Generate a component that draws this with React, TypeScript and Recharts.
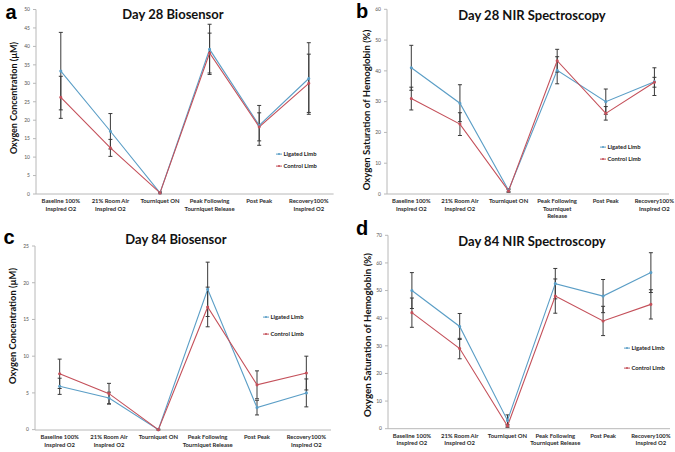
import { LineChart, Line, XAxis, YAxis, ErrorBar } from "recharts"

// categorias (eixo x)
const categories = [
  'Baseline 100%\nInspired O2',
  '21% Room Air\nInspired O2',
  'Tourniquet ON',
  'Peak Following\nTourniquet Release',
  'Post Peak',
  'Recovery100%\nInspired O2',
]
const categoriesNir28 = [
  'Baseline 100%\nInspired O2',
  '21% Room Air\nInspired O2',
  'Tourniquet ON',
  'Peak Following\nTourniquet\nRelease',
  'Post Peak',
  'Recovery100%\nInspired O2',
]

// a - Day 28 Biosensor
const bio28Ligated = [33.3, 17.0, 0.3, 39.2, 18.6, 31.3]
const bio28LigatedErr = [10.5, 4.8, 0.2, 6.8, 5.4, 9.7]
const bio28Control = [26.2, 12.5, 0.3, 38.2, 18.2, 30.0]
const bio28ControlErr = [5.7, 2.3, 0.2, 5.4, 3.8, 7.9]

// b - Day 28 NIR
const nir28Ligated = [41.0, 29.5, 1.2, 40.2, 30.0, 36.5]
const nir28LigatedErr = [7.3, 6.0, 0.5, 4.4, 4.1, 4.5]
const nir28Control = [31.0, 22.7, 1.0, 43.3, 26.2, 36.3]
const nir28ControlErr = [3.7, 3.7, 0.4, 3.7, 2.2, 1.6]

// c - Day 84 Biosensor
const bio84Ligated = [5.9, 4.3, 0.0, 19.1, 3.0, 5.0]
const bio84LigatedErr = [1.1, 0.8, 0.05, 3.7, 1.0, 1.9]
const bio84Control = [7.6, 4.9, 0.0, 16.7, 6.1, 7.7]
const bio84ControlErr = [2.0, 1.4, 0.05, 2.7, 1.9, 2.3]

// d - Day 84 NIR
const nir84Ligated = [50.0, 37.0, 3.0, 52.5, 48.0, 56.5]
const nir84LigatedErr = [6.5, 4.7, 2.0, 5.5, 6.0, 7.2]
const nir84Control = [42.0, 29.0, 1.0, 48.0, 39.0, 45.0]
const nir84ControlErr = [5.3, 3.7, 0.5, 6.2, 5.3, 5.3]

const ticksBio28 = [0, 5, 10, 15, 20, 25, 30, 35, 40, 45, 50]
const ticksNir28 = [0, 10, 20, 30, 40, 50, 60]
const ticksBio84 = [0, 5, 10, 15, 20, 25]
const ticksNir84 = [0, 10, 20, 30, 40, 50, 60, 70]

const BLUE = '#5b9ec6'
const RED = '#c4505a'
const FONT = 'Lato, "Open Sans", sans-serif'

function CatTick(props: any) {
  const { x, y, payload, labels } = props
  const parts = String(labels[payload.value] ?? '').split('\n')
  return (
    <text x={x} y={y} textAnchor="middle" fontSize={5.9} fontWeight={700} fill="#2a2a2a" fontFamily={FONT}>
      {parts.map((p: string, i: number) => (
        <tspan key={i} x={x} dy={i === 0 ? 7 : 7.6}>{p}</tspan>
      ))}
    </text>
  )
}

function Panel(props: any) {
  const {
    left, top, width, height, margin, yWidth, xHeight, xDomain, yDomain, yTicks,
    labels, ligated, ligatedErr, control, controlErr,
    title, titlePos, letter, letterPos, yLabel, yLabelPos, yLabelSize, legendPos, legendGap,
  } = props

  const rows = labels.map((_: string, i: number) => ({
    idx: i,
    lig: ligated[i],
    ligErr: ligatedErr[i],
    ctl: control[i],
    ctlErr: controlErr[i],
  }))

  return (
    <div style={{ position: 'absolute', left, top, width, height }}>
      <LineChart width={width} height={height} data={rows} margin={margin}>
        <XAxis
          dataKey="idx"
          type="number"
          domain={xDomain}
          ticks={[0, 1, 2, 3, 4, 5]}
          interval={0}
          height={xHeight}
          tickLine={false}
          tickSize={0}
          tickMargin={2}
          stroke="#b8b8b8"
          tick={<CatTick labels={labels} />}
        />
        <YAxis
          type="number"
          domain={yDomain}
          ticks={yTicks}
          interval={0}
          width={yWidth}
          tickSize={3}
          tickMargin={3}
          stroke="#b8b8b8"
          tick={{ fontSize: 5, fill: '#555', fontFamily: FONT }}
        />
        <Line dataKey="lig" stroke={BLUE} strokeWidth={1.1} dot={{ r: 1, fill: BLUE, stroke: BLUE }} isAnimationActive={false}>
          <ErrorBar dataKey="ligErr" direction="y" width={2} stroke="#3a3a3a" strokeWidth={1} />
        </Line>
        <Line dataKey="ctl" stroke={RED} strokeWidth={1.1} dot={{ r: 1, fill: RED, stroke: RED }} isAnimationActive={false}>
          <ErrorBar dataKey="ctlErr" direction="y" width={2} stroke="#3a3a3a" strokeWidth={1} />
        </Line>
      </LineChart>

      <div style={{ position: 'absolute', left: titlePos[0], top: titlePos[1], transform: 'translate(-50%,-50%)', whiteSpace: 'nowrap', fontSize: 13, fontWeight: 700, lineHeight: 1, color: '#111' }}>
        {title}
      </div>
      <div style={{ position: 'absolute', left: letterPos[0], top: letterPos[1], transform: 'translate(-50%,-50%)', fontFamily: 'Arial, "Liberation Sans", sans-serif', fontSize: 20, fontWeight: 700, lineHeight: 1, color: '#000' }}>
        {letter}
      </div>
      <div style={{ position: 'absolute', left: yLabelPos[0], top: yLabelPos[1], transform: 'translate(-50%,-50%) rotate(-90deg)', whiteSpace: 'nowrap', fontSize: yLabelSize, fontWeight: 700, lineHeight: 1, color: '#111' }}>
        {yLabel}
      </div>
      {[['Ligated Limb', BLUE], ['Control Limb', RED]].map(([name, color], i) => (
        <div key={name} style={{ position: 'absolute', left: legendPos[0], top: legendPos[1] + i * legendGap, transform: 'translateY(-50%)', display: 'flex', alignItems: 'center', whiteSpace: 'nowrap', fontSize: 5.8, fontWeight: 700, lineHeight: 1, color: '#222' }}>
          <svg width={6} height={4} style={{ marginRight: 1.5 }}>
            <line x1={0} y1={2} x2={6} y2={2} stroke={color} strokeWidth={1} />
            <circle cx={3} cy={2} r={1} fill={color} />
          </svg>
          {name}
        </div>
      ))}
    </div>
  )
}

export default function App() {
  return (
    <div style={{ position: 'absolute', left: 0, top: 0, width: 675, height: 452, background: '#fff', fontFamily: FONT, overflow: 'hidden' }}>
      <Panel
        left={0} top={0} width={340} height={226}
        margin={{ top: 9.5, right: 6.4, left: 10, bottom: 2 }} yWidth={26} xHeight={30}
        xDomain={[-0.5, 5.5]} yDomain={[0, 50]} yTicks={ticksBio28}
        labels={categories}
        ligated={bio28Ligated} ligatedErr={bio28LigatedErr} control={bio28Control} controlErr={bio28ControlErr}
        title="Day 28 Biosensor" titlePos={[173, 14]}
        letter="a" letterPos={[11, 12]}
        yLabel="Oxygen Concentration (µM)" yLabelPos={[13, 98]} yLabelSize={9}
        legendPos={[276, 154]} legendGap={12}
      />
      <Panel
        left={337} top={0} width={338} height={226}
        margin={{ top: 9.3, right: 6, left: 20, bottom: 2 }} yWidth={30} xHeight={30}
        xDomain={[-0.5, 5.3]} yDomain={[0, 60]} yTicks={ticksNir28}
        labels={categoriesNir28}
        ligated={nir28Ligated} ligatedErr={nir28LigatedErr} control={nir28Control} controlErr={nir28ControlErr}
        title="Day 28 NIR Spectroscopy" titlePos={[195, 15]}
        letter="b" letterPos={[25, 11]}
        yLabel="Oxygen Saturation of Hemoglobin (%)" yLabelPos={[30, 110]} yLabelSize={9.6}
        legendPos={[263, 147]} legendGap={12}
      />
      <Panel
        left={0} top={226} width={340} height={226}
        margin={{ top: 20, right: 9, left: 10, bottom: 2 }} yWidth={25} xHeight={20}
        xDomain={[-0.5, 5.5]} yDomain={[0, 25]} yTicks={ticksBio84}
        labels={categories}
        ligated={bio84Ligated} ligatedErr={bio84LigatedErr} control={bio84Control} controlErr={bio84ControlErr}
        title="Day 84 Biosensor" titlePos={[176, 12.7]}
        letter="c" letterPos={[9, 11]}
        yLabel="Oxygen Concentration (µM)" yLabelPos={[13, 100]} yLabelSize={9.3}
        legendPos={[263, 90.7]} legendGap={17}
      />
      <Panel
        left={337} top={226} width={338} height={226}
        margin={{ top: 9.3, right: 5, left: 21, bottom: 2 }} yWidth={30} xHeight={21.3}
        xDomain={[-0.5, 5.4]} yDomain={[0, 70]} yTicks={ticksNir84}
        labels={categories}
        ligated={nir84Ligated} ligatedErr={nir84LigatedErr} control={nir84Control} controlErr={nir84ControlErr}
        title="Day 84 NIR Spectroscopy" titlePos={[195, 15]}
        letter="d" letterPos={[25, 2]}
        yLabel="Oxygen Saturation of Hemoglobin (%)" yLabelPos={[31, 109]} yLabelSize={9.8}
        legendPos={[287, 122.3]} legendGap={19.4}
      />
    </div>
  )
}
